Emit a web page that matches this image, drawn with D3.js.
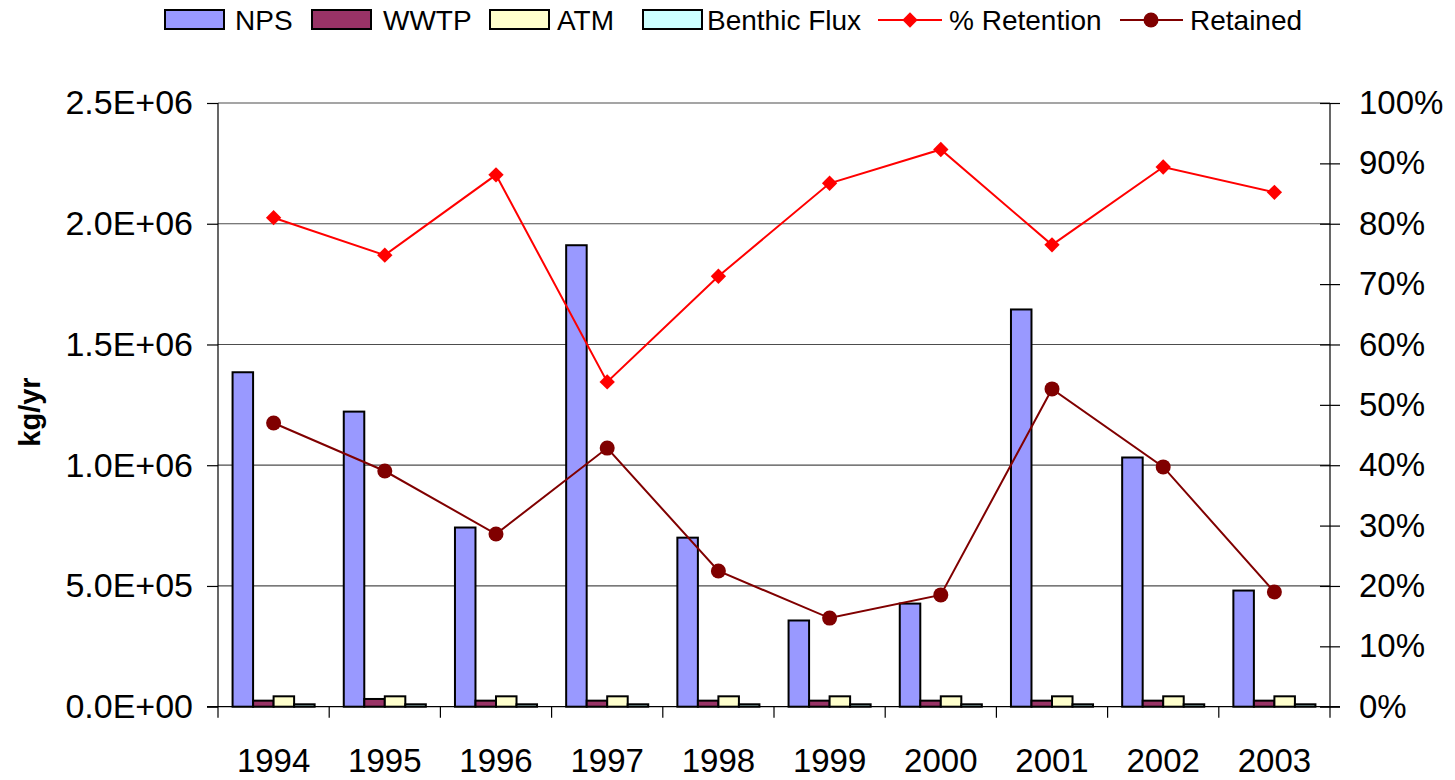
<!DOCTYPE html>
<html><head><meta charset="utf-8">
<script src="https://cdn.jsdelivr.net/npm/d3@7"></script>
<style>body{margin:0;background:#fff}svg{display:block}text{font-family:"Liberation Sans",Arial,sans-serif}</style>
</head><body>
<svg id="c" width="1455" height="780"></svg>
<script>
const years = ["1994","1995","1996","1997","1998","1999","2000","2001","2002","2003"];
const nps = [1385000,1222000,742000,1911000,700000,357000,427000,1645000,1032000,481000];
const wwtp = [25000,32000,25000,25000,25000,25000,25000,25000,25000,25000];
const atm = [43000,43000,43000,43000,43000,43000,43000,43000,43000,43000];
const benthic = [10000,10000,10000,10000,10000,10000,10000,10000,10000,10000];
const pctRetention = [0.81,0.748,0.881,0.538,0.713,0.867,0.923,0.765,0.894,0.852];
const retained = [1175000,976000,715000,1071000,562000,367000,463000,1316000,993000,475000];
const leftTicks = [0,500000,1000000,1500000,2000000,2500000];
const leftTickLabels = ["0.0E+00","5.0E+05","1.0E+06","1.5E+06","2.0E+06","2.5E+06"];
const rightTicks = [0,0.1,0.2,0.3,0.4,0.5,0.6,0.7,0.8,0.9,1.0];
const rightTickLabels = ["0%","10%","20%","30%","40%","50%","60%","70%","80%","90%","100%"];
const barSeries = [
  {name:"NPS", values:nps, color:"#9999FF"},
  {name:"WWTP", values:wwtp, color:"#993366"},
  {name:"ATM", values:atm, color:"#FFFFCC"},
  {name:"Benthic Flux", values:benthic, color:"#CCFFFF"}
];

const svg = d3.select("#c");
const L = 218, R = 1330, T = 103, B = 706.7;
const x = d3.scaleBand().domain(years).range([L, R]).padding(0);
const bw = x.bandwidth();
const xs = d3.scaleBand().domain(barSeries.map(s=>s.name)).range([bw*0.131, bw*0.869]).padding(0);
const yL = d3.scaleLinear().domain([0,2500000]).range([B,T]);
const yR = d3.scaleLinear().domain([0,1]).range([B,T]);

// gridlines
svg.append("g").selectAll("line").data(leftTicks.slice(1)).join("line")
  .attr("x1",L).attr("x2",R).attr("y1",d=>yL(d)).attr("y2",d=>yL(d))
  .attr("stroke","#4d4d4d").attr("stroke-width",1.2);

// bars
barSeries.forEach(s=>{
  svg.append("g").selectAll("rect").data(years).join("rect")
    .attr("x",(d)=>x(d)+xs(s.name))
    .attr("width",xs.bandwidth())
    .attr("y",(d,i)=>yL(s.values[i]))
    .attr("height",(d,i)=>B-yL(s.values[i]))
    .attr("fill",s.color).attr("stroke","#000").attr("stroke-width",2);
});

// axes
const fmtL = d => leftTickLabels[leftTicks.indexOf(d)];
const fmtR = d => rightTickLabels[rightTicks.findIndex(v=>Math.abs(v-d)<1e-9)];
const gL = svg.append("g").attr("transform",`translate(${L},0)`)
  .call(d3.axisLeft(yL).tickValues(leftTicks).tickFormat(fmtL).tickSize(11).tickPadding(14));
const gR = svg.append("g").attr("transform",`translate(${R},0)`)
  .call(d3.axisRight(yR).tickValues(rightTicks).tickFormat(fmtR).tickSizeInner(10).tickSizeOuter(0).tickPadding(19));
gR.selectAll(".tick line").attr("x1",-10);
const gB = svg.append("g").attr("transform",`translate(0,${B})`)
  .call(d3.axisBottom(x).tickValues([]).tickSizeOuter(0));
// category boundary ticks
svg.append("g").selectAll("line").data(years.concat(["end"])).join("line")
  .attr("x1",(d,i)=>L+i*bw).attr("x2",(d,i)=>L+i*bw)
  .attr("y1",B).attr("y2",B+11).attr("stroke","#000").attr("stroke-width",1.2);
svg.append("line").attr("x1",L-11).attr("x2",R+10).attr("y1",B).attr("y2",B).attr("stroke","#000").attr("stroke-width",1.2);
svg.append("g").selectAll("text").data(years).join("text")
  .attr("x",d=>x(d)+bw/2).attr("y",772).attr("text-anchor","middle")
  .attr("font-size",33).text(d=>d);
[gL,gR,gB].forEach(g=>{
  g.selectAll("text").attr("font-size",33).attr("font-family","Liberation Sans, Arial, sans-serif").attr("fill","#000");
  g.selectAll("path,line").attr("stroke","#000").attr("stroke-width",1.2);
});
gL.selectAll("text").attr("font-size",34);
gL.select(".domain").attr("d",`M0,${T}V${B}`);
gR.select(".domain").attr("d",`M0,${T}V${B}`);
gB.select(".domain").remove();

// lines
const cx = d => x(d)+bw/2;
const lineR = d3.line().x((d,i)=>cx(years[i])).y(d=>yR(d));
svg.append("path").datum(pctRetention).attr("d",lineR).attr("fill","none").attr("stroke","#FF0000").attr("stroke-width",2);
const lineL = d3.line().x((d,i)=>cx(years[i])).y(d=>yL(d));
svg.append("path").datum(retained).attr("d",lineL).attr("fill","none").attr("stroke","#800000").attr("stroke-width",2);
const diamond = d3.symbol().type(d3.symbolDiamond2).size(150);
svg.append("g").selectAll("path").data(pctRetention).join("path")
  .attr("d",diamond).attr("transform",(d,i)=>`translate(${cx(years[i])},${yR(d)})`).attr("fill","#FF0000");
svg.append("g").selectAll("circle").data(retained).join("circle")
  .attr("cx",(d,i)=>cx(years[i])).attr("cy",d=>yL(d)).attr("r",7.5).attr("fill","#800000");

// y label
svg.append("text").attr("transform","translate(40,412) rotate(-90)").attr("text-anchor","middle")
  .attr("font-size",29).attr("font-weight","bold").text("kg/yr");

// legend
const leg = svg.append("g");
const boxX = [165,312,490,643];
const textX = [235,383,557,707];
barSeries.forEach((s,i)=>{
  leg.append("rect").attr("x",boxX[i]).attr("y",10).attr("width",59).attr("height",19)
    .attr("fill",s.color).attr("stroke","#000").attr("stroke-width",2);
  leg.append("text").attr("x",textX[i]).attr("y",30).attr("font-size",28).text(s.name);
});
leg.append("line").attr("x1",878).attr("x2",942).attr("y1",20).attr("y2",20).attr("stroke","#FF0000").attr("stroke-width",2);
leg.append("path").attr("d",diamond).attr("transform","translate(910,20)").attr("fill","#FF0000");
leg.append("text").attr("x",949).attr("y",30).attr("font-size",28).text("% Retention");
leg.append("line").attr("x1",1120).attr("x2",1183).attr("y1",20).attr("y2",20).attr("stroke","#800000").attr("stroke-width",2);
leg.append("circle").attr("cx",1151).attr("cy",20).attr("r",7.5).attr("fill","#800000");
leg.append("text").attr("x",1190).attr("y",30).attr("font-size",28).text("Retained");
</script>
</body></html>
